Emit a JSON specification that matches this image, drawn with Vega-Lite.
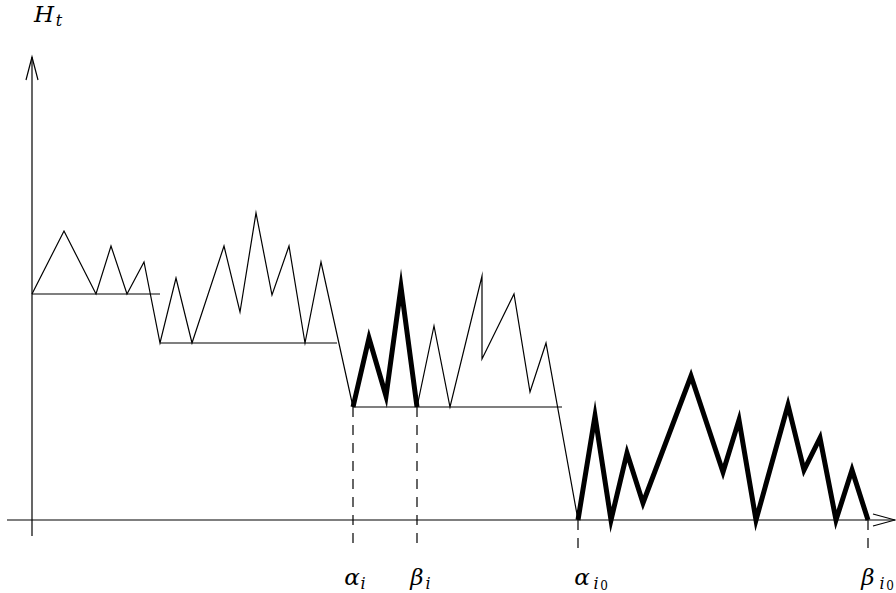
{
  "$schema": "https://vega.github.io/schema/vega-lite/v6.json",
  "width": 896,
  "height": 593,
  "padding": 0,
  "autosize": {"type": "none"},
  "background": "white",
  "config": {"view": {"stroke": null}},
  "layer": [
    {
      "data": {"values": [
        {"t": -25, "h": 0, "t2": 863, "h2": 0},
        {"t": 0, "h": -16, "t2": 0, "h2": 463},
        {"t": 0, "h": 226, "t2": 128, "h2": 226},
        {"t": 128, "h": 177, "t2": 305, "h2": 177},
        {"t": 321, "h": 113, "t2": 530, "h2": 113}
      ]},
      "mark": {"type": "rule", "color": "black", "strokeWidth": 1.2},
      "encoding": {
        "x": {"field": "t", "type": "quantitative", "scale": {"domain": [-32, 864], "nice": false, "zero": false}, "axis": null},
        "y": {"field": "h", "type": "quantitative", "scale": {"domain": [-73, 520], "nice": false, "zero": false}, "axis": null},
        "x2": {"field": "t2"},
        "y2": {"field": "h2"}
      }
    },
    {
      "data": {"values": [
        {"t": 321, "h": 113, "t2": 321, "h2": -27},
        {"t": 385, "h": 113, "t2": 385, "h2": -27},
        {"t": 546, "h": 0, "t2": 546, "h2": -33},
        {"t": 836, "h": 0, "t2": 836, "h2": -33}
      ]},
      "mark": {"type": "rule", "color": "black", "strokeWidth": 1.2, "strokeDash": [10, 8]},
      "encoding": {
        "x": {"field": "t", "type": "quantitative", "scale": {"domain": [-32, 864], "nice": false, "zero": false}, "axis": null},
        "y": {"field": "h", "type": "quantitative", "scale": {"domain": [-73, 520], "nice": false, "zero": false}, "axis": null},
        "x2": {"field": "t2"},
        "y2": {"field": "h2"}
      }
    },
    {
      "data": {"values": [
        {"seg": "xa", "i": 0, "t": 841, "h": 6},
        {"seg": "xa", "i": 1, "t": 863, "h": 0},
        {"seg": "xa", "i": 2, "t": 841, "h": -6},
        {"seg": "ya", "i": 0, "t": -6, "h": 440},
        {"seg": "ya", "i": 1, "t": 0, "h": 463},
        {"seg": "ya", "i": 2, "t": 6, "h": 440}
      ]},
      "mark": {"type": "line", "color": "black", "strokeWidth": 1.2},
      "encoding": {
        "x": {"field": "t", "type": "quantitative", "scale": {"domain": [-32, 864], "nice": false, "zero": false}, "axis": null},
        "y": {"field": "h", "type": "quantitative", "scale": {"domain": [-73, 520], "nice": false, "zero": false}, "axis": null},
        "detail": {"field": "seg"},
        "order": {"field": "i"}
      }
    },
    {
      "data": {"values": [
        {"seg": "a", "i": 0, "t": 0, "h": 226},
        {"seg": "a", "i": 1, "t": 32, "h": 289},
        {"seg": "a", "i": 2, "t": 64, "h": 226},
        {"seg": "a", "i": 3, "t": 79, "h": 274},
        {"seg": "a", "i": 4, "t": 95, "h": 226},
        {"seg": "a", "i": 5, "t": 112, "h": 258},
        {"seg": "a", "i": 6, "t": 128, "h": 177},
        {"seg": "a", "i": 7, "t": 144, "h": 242},
        {"seg": "a", "i": 8, "t": 160, "h": 177},
        {"seg": "a", "i": 9, "t": 192, "h": 274},
        {"seg": "a", "i": 10, "t": 208, "h": 208},
        {"seg": "a", "i": 11, "t": 224, "h": 307},
        {"seg": "a", "i": 12, "t": 240, "h": 225},
        {"seg": "a", "i": 13, "t": 257, "h": 274},
        {"seg": "a", "i": 14, "t": 273, "h": 177},
        {"seg": "a", "i": 15, "t": 289, "h": 258},
        {"seg": "a", "i": 16, "t": 321, "h": 113},
        {"seg": "b", "i": 0, "t": 385, "h": 113},
        {"seg": "b", "i": 1, "t": 402, "h": 194},
        {"seg": "b", "i": 2, "t": 418, "h": 113},
        {"seg": "b", "i": 3, "t": 450, "h": 244},
        {"seg": "b", "i": 4, "t": 450, "h": 161},
        {"seg": "b", "i": 5, "t": 482, "h": 226},
        {"seg": "b", "i": 6, "t": 498, "h": 128},
        {"seg": "b", "i": 7, "t": 514, "h": 177},
        {"seg": "b", "i": 8, "t": 546, "h": 0}
      ]},
      "mark": {"type": "line", "color": "black", "strokeWidth": 1.2, "strokeJoin": "miter", "strokeMiterLimit": 20},
      "encoding": {
        "x": {"field": "t", "type": "quantitative", "scale": {"domain": [-32, 864], "nice": false, "zero": false}, "axis": null},
        "y": {"field": "h", "type": "quantitative", "scale": {"domain": [-73, 520], "nice": false, "zero": false}, "axis": null},
        "detail": {"field": "seg"},
        "order": {"field": "i"}
      }
    },
    {
      "data": {"values": [
        {"seg": "c", "i": 0, "t": 321, "h": 113},
        {"seg": "c", "i": 1, "t": 337, "h": 182},
        {"seg": "c", "i": 2, "t": 354, "h": 124},
        {"seg": "c", "i": 3, "t": 369, "h": 233},
        {"seg": "c", "i": 4, "t": 385, "h": 113},
        {"seg": "d", "i": 0, "t": 546, "h": 0},
        {"seg": "d", "i": 1, "t": 563, "h": 104},
        {"seg": "d", "i": 2, "t": 579, "h": 0},
        {"seg": "d", "i": 3, "t": 595, "h": 67},
        {"seg": "d", "i": 4, "t": 611, "h": 17},
        {"seg": "d", "i": 5, "t": 659, "h": 144},
        {"seg": "d", "i": 6, "t": 691, "h": 48},
        {"seg": "d", "i": 7, "t": 707, "h": 100},
        {"seg": "d", "i": 8, "t": 724, "h": 0},
        {"seg": "d", "i": 9, "t": 756, "h": 115},
        {"seg": "d", "i": 10, "t": 772, "h": 50},
        {"seg": "d", "i": 11, "t": 788, "h": 82},
        {"seg": "d", "i": 12, "t": 804, "h": 0},
        {"seg": "d", "i": 13, "t": 820, "h": 50},
        {"seg": "d", "i": 14, "t": 836, "h": 0}
      ]},
      "mark": {"type": "line", "color": "black", "strokeWidth": 5, "strokeJoin": "miter", "strokeMiterLimit": 20},
      "encoding": {
        "x": {"field": "t", "type": "quantitative", "scale": {"domain": [-32, 864], "nice": false, "zero": false}, "axis": null},
        "y": {"field": "h", "type": "quantitative", "scale": {"domain": [-73, 520], "nice": false, "zero": false}, "axis": null},
        "detail": {"field": "seg"},
        "order": {"field": "i"}
      }
    },
    {
      "data": {"values": [
        {"t": 320, "h": -65, "label": "α"},
        {"t": 385, "h": -65, "label": "β"},
        {"t": 550, "h": -65, "label": "α"},
        {"t": 836, "h": -65, "label": "β"},
        {"t": 12, "h": 498, "label": "H"}
      ]},
      "mark": {"type": "text", "font": "DejaVu Serif", "fontStyle": "italic", "fontSize": 23, "align": "center", "baseline": "alphabetic", "color": "black"},
      "encoding": {
        "x": {"field": "t", "type": "quantitative", "scale": {"domain": [-32, 864], "nice": false, "zero": false}, "axis": null},
        "y": {"field": "h", "type": "quantitative", "scale": {"domain": [-73, 520], "nice": false, "zero": false}, "axis": null},
        "text": {"field": "label"}
      }
    },
    {
      "data": {"values": [
        {"t": 331, "h": -69, "label": "i"},
        {"t": 396, "h": -69, "label": "i"},
        {"t": 564, "h": -69, "label": "i"},
        {"t": 850, "h": -69, "label": "i"},
        {"t": 27, "h": 494, "label": "t"}
      ]},
      "mark": {"type": "text", "font": "DejaVu Serif", "fontStyle": "italic", "fontSize": 16, "align": "center", "baseline": "alphabetic", "color": "black"},
      "encoding": {
        "x": {"field": "t", "type": "quantitative", "scale": {"domain": [-32, 864], "nice": false, "zero": false}, "axis": null},
        "y": {"field": "h", "type": "quantitative", "scale": {"domain": [-73, 520], "nice": false, "zero": false}, "axis": null},
        "text": {"field": "label"}
      }
    },
    {
      "data": {"values": [
        {"t": 572, "h": -70, "label": "0"},
        {"t": 858, "h": -70, "label": "0"}
      ]},
      "mark": {"type": "text", "font": "DejaVu Serif", "fontSize": 12, "align": "center", "baseline": "alphabetic", "color": "black"},
      "encoding": {
        "x": {"field": "t", "type": "quantitative", "scale": {"domain": [-32, 864], "nice": false, "zero": false}, "axis": null},
        "y": {"field": "h", "type": "quantitative", "scale": {"domain": [-73, 520], "nice": false, "zero": false}, "axis": null},
        "text": {"field": "label"}
      }
    }
  ]
}
